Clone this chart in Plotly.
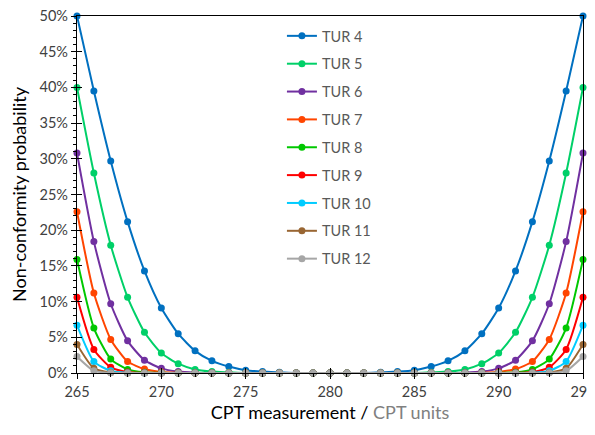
import plotly.graph_objects as go

x_values = list(range(265, 296))

tur_names = ["TUR 4", "TUR 5", "TUR 6", "TUR 7", "TUR 8", "TUR 9", "TUR 10", "TUR 11", "TUR 12"]

tur4 = [50.0, 39.5, 29.7, 21.2, 14.3, 9.1, 5.5, 3.1, 1.7, 0.9, 0.4, 0.2, 0.1, 0.0, 0.0, 0.0,
        0.0, 0.0, 0.1, 0.2, 0.4, 0.9, 1.7, 3.1, 5.5, 9.1, 14.3, 21.2, 29.7, 39.5, 50.0]
tur5 = [40.0, 28.0, 17.9, 10.6, 5.7, 2.8, 1.3, 0.5, 0.2, 0.1, 0.0, 0.0, 0.0, 0.0, 0.0, 0.0,
        0.0, 0.0, 0.0, 0.0, 0.0, 0.1, 0.2, 0.5, 1.3, 2.8, 5.7, 10.6, 17.9, 28.0, 40.0]
tur6 = [30.8, 18.4, 9.7, 4.5, 1.8, 0.65, 0.2, 0.05, 0.0, 0.0, 0.0, 0.0, 0.0, 0.0, 0.0, 0.0,
        0.0, 0.0, 0.0, 0.0, 0.0, 0.0, 0.0, 0.05, 0.2, 0.65, 1.8, 4.5, 9.7, 18.4, 30.8]
tur7 = [22.6, 11.2, 4.7, 1.6, 0.55, 0.15, 0.04, 0.0, 0.0, 0.0, 0.0, 0.0, 0.0, 0.0, 0.0, 0.0,
        0.0, 0.0, 0.0, 0.0, 0.0, 0.0, 0.0, 0.0, 0.04, 0.15, 0.55, 1.6, 4.7, 11.2, 22.6]
tur8 = [15.9, 6.3, 1.95, 0.5, 0.1, 0.02, 0.0, 0.0, 0.0, 0.0, 0.0, 0.0, 0.0, 0.0, 0.0, 0.0,
        0.0, 0.0, 0.0, 0.0, 0.0, 0.0, 0.0, 0.0, 0.0, 0.02, 0.1, 0.5, 1.95, 6.3, 15.9]
tur9 = [10.6, 3.3, 0.8, 0.15, 0.02, 0.0, 0.0, 0.0, 0.0, 0.0, 0.0, 0.0, 0.0, 0.0, 0.0, 0.0,
        0.0, 0.0, 0.0, 0.0, 0.0, 0.0, 0.0, 0.0, 0.0, 0.0, 0.02, 0.15, 0.8, 3.3, 10.6]
tur10 = [6.7, 1.6, 0.3, 0.04, 0.0, 0.0, 0.0, 0.0, 0.0, 0.0, 0.0, 0.0, 0.0, 0.0, 0.0, 0.0,
         0.0, 0.0, 0.0, 0.0, 0.0, 0.0, 0.0, 0.0, 0.0, 0.0, 0.0, 0.04, 0.3, 1.6, 6.7]
tur11 = [4.0, 0.65, 0.08, 0.0, 0.0, 0.0, 0.0, 0.0, 0.0, 0.0, 0.0, 0.0, 0.0, 0.0, 0.0, 0.0,
         0.0, 0.0, 0.0, 0.0, 0.0, 0.0, 0.0, 0.0, 0.0, 0.0, 0.0, 0.0, 0.08, 0.65, 4.0]
tur12 = [2.3, 0.3, 0.03, 0.0, 0.0, 0.0, 0.0, 0.0, 0.0, 0.0, 0.0, 0.0, 0.0, 0.0, 0.0, 0.0,
         0.0, 0.0, 0.0, 0.0, 0.0, 0.0, 0.0, 0.0, 0.0, 0.0, 0.0, 0.0, 0.03, 0.3, 2.3]

series_values = [tur4, tur5, tur6, tur7, tur8, tur9, tur10, tur11, tur12]
colors = ["#0070C0", "#00D068", "#7030A0", "#FF4500", "#00C800", "#FF0000", "#00CCFF", "#996633", "#A6A6A6"]

y_tick_vals = [0, 5, 10, 15, 20, 25, 30, 35, 40, 45, 50]
y_tick_text = ["0%", "5%", "10%", "15%", "20%", "25%", "30%", "35%", "40%", "45%", "50%"]
x_tick_vals = [265, 270, 275, 280, 285, 290, 295]

FONT = "Lato, Liberation Sans, sans-serif"

fig = go.Figure()
for i, (name, vals, col) in enumerate(zip(tur_names, series_values, colors)):
    fig.add_trace(go.Scatter(
        x=x_values, y=vals, name=name, mode="lines+markers", legendgroup=f"g{i}",
        line=dict(color=col, width=2, shape="spline", smoothing=0.6),
        marker=dict(color=col, size=7),
        cliponaxis=False,
    ))

# invisible trace on secondary axes for inside (cross) ticks
fig.add_trace(go.Scatter(x=[265, 295], y=[0, 50], xaxis="x2", yaxis="y2",
                         mode="markers", marker=dict(opacity=0), showlegend=False, hoverinfo="skip"))

# page body has an 8px margin: figure size compensates so the window shows 595x435
fig.update_layout(
    width=587, height=427,
    paper_bgcolor="white", plot_bgcolor="white",
    margin=dict(l=69, r=12, t=8, b=62, autoexpand=False),
    font=dict(family=FONT, size=14, color="#404040"),
    showlegend=True,
    legend=dict(x=0.405, y=0.989, xanchor="left", yanchor="top",
                bgcolor="rgba(0,0,0,0)", font=dict(size=14.5, color="#595959"),
                tracegroupgap=6, itemwidth=30),
    xaxis=dict(range=[265, 295], tickvals=x_tick_vals, showgrid=False, zeroline=False,
               showline=True, linecolor="black", linewidth=1.3, mirror=True, automargin=False,
               ticks="outside", ticklen=5, tickcolor="black", ticklabeloverflow="allow",
               minor=dict(dtick=1, ticks="outside", ticklen=3, tickcolor="black"),
               tickfont=dict(size=14.5, color="#404040"),
               title=dict(text="CPT measurement / <span style='color:#808080'>CPT units</span>",
                          font=dict(size=18, color="black"), standoff=7)),
    yaxis=dict(range=[0, 50], tickvals=y_tick_vals, ticktext=y_tick_text, showgrid=False, zeroline=False,
               showline=True, linecolor="black", linewidth=1.3, mirror=True, automargin=False,
               ticks="outside", ticklen=5, tickcolor="black", ticklabeloverflow="allow",
               minor=dict(dtick=1, ticks="outside", ticklen=3, tickcolor="black"),
               tickfont=dict(size=14.5, color="#404040"),
               title=dict(text="Non-conformity probability", font=dict(size=18, color="black"), standoff=10)),
    xaxis2=dict(range=[265, 295], overlaying="x", tickvals=x_tick_vals, showticklabels=False, automargin=False,
                ticks="inside", ticklen=5, tickcolor="black", showgrid=False, zeroline=False, showline=False),
    yaxis2=dict(range=[0, 50], overlaying="y", tickvals=y_tick_vals, showticklabels=False, automargin=False,
                ticks="inside", ticklen=5, tickcolor="black", showgrid=False, zeroline=False, showline=False),
)

fig.write_html("out.html")
